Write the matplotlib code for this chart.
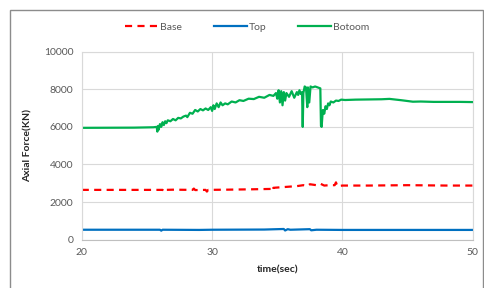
import matplotlib.pyplot as plt
from matplotlib.patches import Rectangle

plt.rcParams['font.family'] = ['Lato', 'DejaVu Sans']

# Botoom (green)
green_t = [20, 22, 24, 25.5, 25.75, 25.8, 25.85, 25.9, 26.0, 26.1, 26.2, 26.3, 26.4, 26.5,
           26.6, 26.8, 27.0, 27.2, 27.4, 27.6, 27.8, 28.0, 28.1, 28.3, 28.5, 28.7, 28.9,
           29.1, 29.3, 29.5, 29.7, 29.9, 30.0, 30.1, 30.2, 30.35, 30.5, 30.65, 30.8, 31.0,
           31.2, 31.5, 31.8, 32.1, 32.4, 32.8, 33.2, 33.6, 34.0, 34.4, 34.7, 34.9, 35.0,
           35.1, 35.2, 35.3, 35.4, 35.5, 35.6, 35.7, 35.9, 36.1, 36.3, 36.5, 36.6, 36.7,
           36.8, 36.9, 36.95, 37.0, 37.1, 37.2, 37.3, 37.35, 37.45, 37.55, 37.7, 37.9,
           38.1, 38.3, 38.35, 38.4, 38.45, 38.5, 38.6, 38.7, 38.8, 38.9, 39.0, 39.1, 39.3,
           39.5, 39.7, 39.9, 40.2, 41, 42, 43, 43.6, 44.5, 45.4, 46, 47, 48, 49, 50]
green_v = [5950, 5955, 5960, 5980, 6000, 5750, 6050, 5850, 6150, 6000, 6250, 6100, 6300, 6200,
           6350, 6300, 6420, 6350, 6480, 6450, 6550, 6600, 6520, 6750, 6700, 6900, 6820,
           6950, 6880, 6980, 6900, 7050, 6850, 7150, 6950, 7250, 7050, 7300, 7150, 7250,
           7200, 7350, 7300, 7420, 7380, 7500, 7480, 7600, 7550, 7700, 7650, 7800, 7500,
           7950, 7300, 7900, 7150, 7850, 7400, 7800, 7600, 7900, 7550, 7850, 7700, 7950,
           7750, 7850, 6000, 7800, 8150, 8100, 7050, 8100, 7300, 8150, 8100, 8150,
           8100, 8050, 6050, 6000, 6500, 6900, 6700, 7100, 6950, 7250, 7150, 7350, 7300,
           7400, 7380, 7450, 7430, 7450, 7460, 7470, 7490, 7420, 7340, 7350, 7330, 7330, 7330, 7320]

# Base (red, dashed)
red_t = [20, 25, 26.2, 26.3, 26.4, 27, 28.5, 28.6, 28.7, 29.5, 29.6, 29.7, 31, 33, 34.5,
         34.6, 34.7, 35.5, 36.5, 37.0, 37.3, 37.5, 38.0, 38.3, 38.6, 39.0, 39.4, 39.5,
         39.6, 40, 42, 45, 48, 50]
red_v = [2650, 2650, 2650, 2550, 2650, 2660, 2650, 2720, 2640, 2650, 2560, 2650, 2660,
         2680, 2700, 2580, 2760, 2800, 2850, 2900, 2850, 2950, 2900, 2980, 2880, 2900,
         2900, 3050, 2850, 2880, 2880, 2900, 2880, 2880]

# Top (blue)
blue_t = [20, 26, 26.1, 26.2, 29, 30, 34, 35.5, 35.6, 35.8, 36, 37.5, 37.6, 38, 40, 50]
blue_v = [530, 530, 480, 530, 520, 530, 540, 570, 490, 560, 530, 560, 500, 530, 520, 520]

fig = plt.figure(figsize=(4.85, 2.88), dpi=100)
ax = fig.add_axes([0.1685, 0.1677, 0.8065, 0.6528])

ax.plot(red_t, red_v, color='#FF0000', lw=1.6, dashes=(3.2, 2.4), label='Base')
ax.plot(blue_t, blue_v, color='#0070C0', lw=1.6, label='Top')
ax.plot(green_t, green_v, color='#00B050', lw=1.6, label='Botoom')

ax.set_xlim(20, 50)
ax.set_ylim(0, 10000)
ax.set_xticks([20, 30, 40, 50])
ax.set_yticks(range(0, 10001, 2000))
ax.grid(True, color='#d9d9d9', lw=0.8)
ax.set_axisbelow(True)
ax.tick_params(length=0, labelsize=7.5, labelcolor='#595959', pad=6)
for s in ax.spines.values():
    s.set_color('#d9d9d9')
    s.set_linewidth(0.8)
ax.spines['bottom'].set_color('#bfbfbf')

ax.set_xlabel('time(sec)', fontsize=7.5, fontweight='bold', color='#262626', labelpad=6)
ax.set_ylabel('Axial Force(KN)', fontsize=7.5, fontweight='bold', color='#262626', labelpad=8)

fig.legend(loc='center', bbox_to_anchor=(0.51, 0.906), ncol=3, frameon=False,
           fontsize=7.5, handlelength=3.2, columnspacing=3.0, handletextpad=0.2,
           labelcolor='#595959')

fig.patches.append(Rectangle((0.0196, -0.1), 0.976, 1.065, transform=fig.transFigure,
                             fill=False, edgecolor='#8c8c8c', lw=1.0))

fig.savefig('out.png', dpi=100)
